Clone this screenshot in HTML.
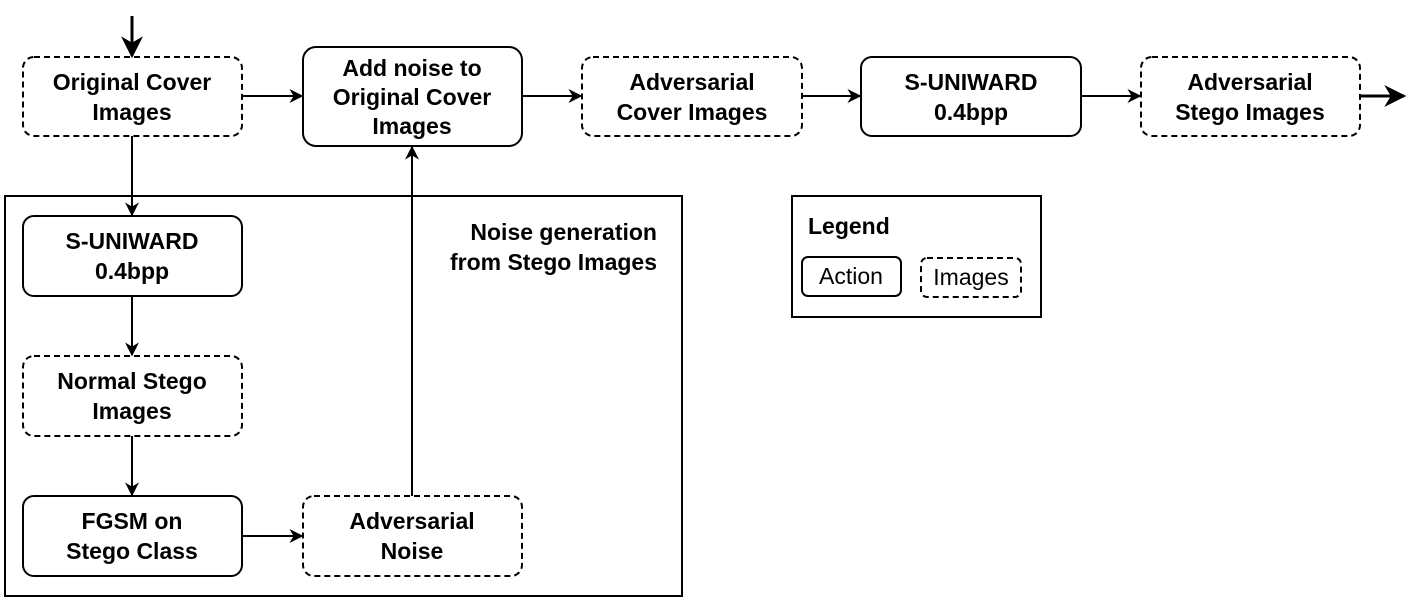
<!DOCTYPE html>
<html><head><meta charset="utf-8"><style>
html,body{margin:0;padding:0;background:#fff;}
svg{display:block;}
text{font-family:"Liberation Sans",Arial,sans-serif;font-size:23px;fill:#000;}
.b{font-weight:bold;}
</style></head><body>
<svg width="1422" height="603" viewBox="0 0 1422 603" xmlns="http://www.w3.org/2000/svg">
<defs>
<marker id="a" viewBox="0 0 10 10" refX="9" refY="5" markerWidth="14" markerHeight="14" markerUnits="userSpaceOnUse" orient="auto"><path d="M0,0 L10,5 L0,10 L3,5 z" fill="#000"/></marker>
<marker id="A" viewBox="0 0 10 10" refX="9" refY="5" markerWidth="22" markerHeight="22" markerUnits="userSpaceOnUse" orient="auto"><path d="M0,0 L10,5 L0,10 L3,5 z" fill="#000"/></marker>
</defs>
<g fill="none" stroke="#000" stroke-width="2">
<rect x="5" y="196" width="677" height="400"/>
<rect x="792" y="196" width="249" height="121"/>
</g>
<g fill="#fff" stroke="#000" stroke-width="2">
<rect x="23" y="57" width="219" height="79" rx="11" stroke-dasharray="6,4"/>
<rect x="303" y="47" width="219" height="99" rx="13"/>
<rect x="582" y="57" width="220" height="79" rx="11" stroke-dasharray="6,4"/>
<rect x="861" y="57" width="220" height="79" rx="11"/>
<rect x="1141" y="57" width="219" height="79" rx="11" stroke-dasharray="6,4"/>
<rect x="23" y="216" width="219" height="80" rx="11"/>
<rect x="23" y="356" width="219" height="80" rx="11" stroke-dasharray="6,4"/>
<rect x="23" y="496" width="219" height="80" rx="11"/>
<rect x="303" y="496" width="219" height="80" rx="11" stroke-dasharray="6,4"/>
<rect x="802" y="257" width="99" height="39" rx="6"/>
<rect x="921" y="258" width="100" height="39" rx="6" stroke-dasharray="6,4"/>
</g>
<g stroke="#000" stroke-width="2" fill="none">
<line x1="242" y1="96" x2="302" y2="96" marker-end="url(#a)"/>
<line x1="522" y1="96" x2="581" y2="96" marker-end="url(#a)"/>
<line x1="802" y1="96" x2="860" y2="96" marker-end="url(#a)"/>
<line x1="1081" y1="96" x2="1140" y2="96" marker-end="url(#a)"/>
<line x1="132" y1="136" x2="132" y2="215" marker-end="url(#a)"/>
<line x1="132" y1="296" x2="132" y2="355" marker-end="url(#a)"/>
<line x1="132" y1="436" x2="132" y2="495" marker-end="url(#a)"/>
<line x1="242" y1="536" x2="302" y2="536" marker-end="url(#a)"/>
<line x1="412" y1="496" x2="412" y2="147" marker-end="url(#a)"/>
</g>
<g stroke="#000" stroke-width="3" fill="none">
<line x1="132" y1="16" x2="132" y2="56" marker-end="url(#A)"/>
<line x1="1360" y1="96" x2="1404" y2="96" marker-end="url(#A)"/>
</g>
<g text-anchor="middle">
<text x="132" y="90" class="b">Original Cover</text><text x="132" y="120" class="b">Images</text>
<text x="412" y="76" class="b">Add noise to</text><text x="412" y="105" class="b">Original Cover</text><text x="412" y="134" class="b">Images</text>
<text x="692" y="90" class="b">Adversarial</text><text x="692" y="120" class="b">Cover Images</text>
<text x="971" y="90" class="b">S-UNIWARD</text><text x="971" y="120" class="b">0.4bpp</text>
<text x="1250" y="90" class="b">Adversarial</text><text x="1250" y="120" class="b">Stego Images</text>
<text x="132" y="249" class="b">S-UNIWARD</text><text x="132" y="279" class="b">0.4bpp</text>
<text x="132" y="389" class="b">Normal Stego</text><text x="132" y="419" class="b">Images</text>
<text x="132" y="529" class="b">FGSM on</text><text x="132" y="559" class="b">Stego Class</text>
<text x="412" y="529" class="b">Adversarial</text><text x="412" y="559" class="b">Noise</text>
</g>
<text x="657" y="240" text-anchor="end" class="b">Noise generation</text>
<text x="657" y="270" text-anchor="end" class="b">from Stego Images</text>
<text x="808" y="234" class="b">Legend</text>
<text x="851" y="284" text-anchor="middle">Action</text>
<text x="971" y="285" text-anchor="middle">Images</text>
</svg>
</body></html>
